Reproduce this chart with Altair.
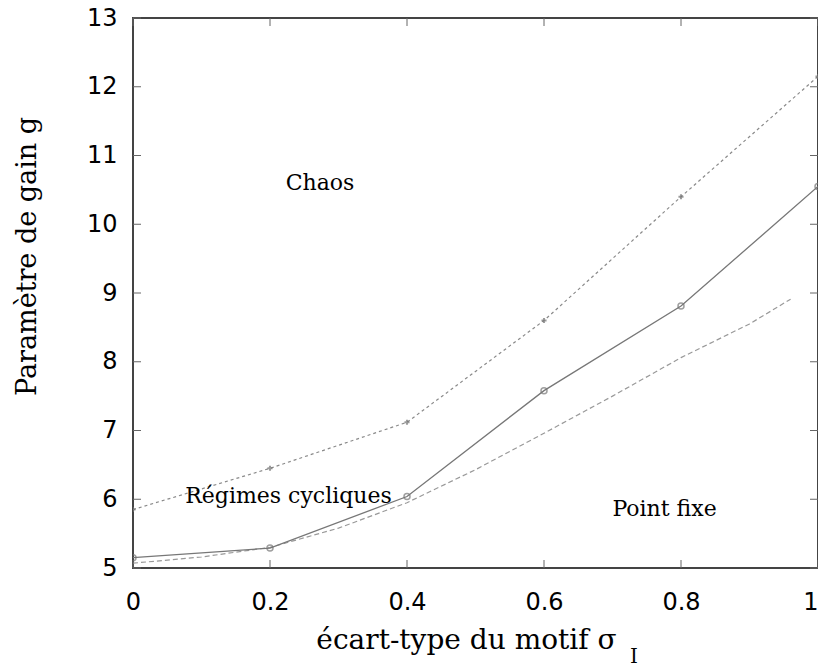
import altair as alt
import pandas as pd

# ---- data ----
x_pts = [0.0, 0.2, 0.4, 0.6, 0.8, 1.0]
chaos_g = [5.85, 6.45, 7.12, 8.60, 10.40, 12.15]
cycle_g = [5.15, 5.29, 6.04, 7.58, 8.81, 10.55]

fixed_x = [0.0, 0.1, 0.2, 0.3, 0.4, 0.5, 0.6, 0.7, 0.8, 0.9, 0.96]
fixed_g = [5.07, 5.16, 5.30, 5.58, 5.95, 6.43, 6.96, 7.50, 8.06, 8.55, 8.91]

x_ticks = [0.0, 0.2, 0.4, 0.6, 0.8, 1.0]
y_ticks = [5, 6, 7, 8, 9, 10, 11, 12, 13]

labels = ["Chaos", "Régimes cycliques", "Point fixe"]
label_x = [0.273, 0.227, 0.776]
label_g = [10.60, 6.05, 5.86]

W, H = 685, 550

df_chaos = pd.DataFrame({"x": x_pts, "g": chaos_g})
df_cycle = pd.DataFrame({"x": x_pts, "g": cycle_g})
df_fixed = pd.DataFrame({"x": fixed_x, "g": fixed_g})
df_xt = pd.DataFrame({"x": x_ticks})
df_yt = pd.DataFrame({"g": y_ticks})
df_lab = pd.DataFrame({"x": label_x, "g": label_g, "t": labels})

xs = alt.Scale(domain=[0, 1], nice=False, zero=False)
ys = alt.Scale(domain=[5, 13], nice=False, zero=False)

x_axis = alt.Axis(
    values=x_ticks, format="~g", title="écart-type du motif σ",
    ticks=False, domain=False, grid=False, labelFlush=False, labelOverlap=False,
    labelAlign=alt.ExprRef(expr="datum.value == 1 ? 'right' : 'center'"),
    labelFont="DejaVu Sans", labelFontSize=24, labelColor="black", labelPadding=22,
    titleFont="DejaVu Serif", titleFontSize=28, titleFontWeight="normal", titleColor="black",
    titleX=333, titleY=80, titleBaseline="alphabetic", titleAlign="center")
y_axis = alt.Axis(
    values=y_ticks, title="Paramètre de gain g",
    ticks=False, domain=False, grid=False, labelOverlap=False,
    labelFont="DejaVu Sans", labelFontSize=24, labelColor="black", labelPadding=16,
    titleFont="DejaVu Serif", titleFontSize=27, titleFontWeight="normal", titleColor="black",
    titleX=-98, titleY=238, titleAngle=-90, titleBaseline="alphabetic", titleAlign="center")

X = alt.X("x:Q", scale=xs, axis=x_axis, title="écart-type du motif σ")
Y = alt.Y("g:Q", scale=ys, axis=y_axis, title="Paramètre de gain g")

chaos_line = alt.Chart(df_chaos).mark_line(
    color="#8a8a8a", strokeWidth=1.2, strokeDash=[3, 3], clip=True).encode(x=X, y=Y)
chaos_pts = alt.Chart(df_chaos).mark_point(
    shape="cross", size=26, filled=True, color="#707070", clip=True).encode(x=X, y=Y)

cycle_line = alt.Chart(df_cycle).mark_line(
    color="#777777", strokeWidth=1.3, clip=True).encode(x=X, y=Y)
cycle_pts = alt.Chart(df_cycle).mark_point(
    shape="circle", size=36, filled=False, strokeWidth=1.5, color="#777777", clip=True).encode(x=X, y=Y)

fixed_line = alt.Chart(df_fixed).mark_line(
    color="#999999", strokeWidth=1.2, strokeDash=[5, 3], clip=True).encode(x=X, y=Y)

tick_col = "#666666"
xt_bot = alt.Chart(df_xt).mark_rule(color=tick_col, strokeWidth=1).encode(
    x=X, y=alt.value(H), y2=alt.value(H - 8))
xt_top = alt.Chart(df_xt).mark_rule(color=tick_col, strokeWidth=1).encode(
    x=X, y=alt.value(0), y2=alt.value(8))
yt_left = alt.Chart(df_yt).mark_rule(color=tick_col, strokeWidth=1).encode(
    y=Y, x=alt.value(0), x2=alt.value(8))
yt_right = alt.Chart(df_yt).mark_rule(color=tick_col, strokeWidth=1).encode(
    y=Y, x=alt.value(W - 8), x2=alt.value(W))

texts = alt.Chart(df_lab).mark_text(
    font="DejaVu Serif", fontSize=22, color="black", baseline="middle", align="center").encode(
    x=X, y=Y, text="t:N")

sub_i = alt.Chart(pd.DataFrame({"t": ["I"]})).mark_text(
    font="DejaVu Serif", fontSize=20, color="black", baseline="alphabetic", align="center").encode(
    x=alt.value(501), y=alt.value(645), text="t:N")

chart = alt.layer(
    chaos_line, fixed_line, cycle_line, chaos_pts, cycle_pts,
    xt_bot, xt_top, yt_left, yt_right, texts, sub_i
).properties(
    width=W, height=H,
    autosize=alt.AutoSizeParams(type="none"),
    padding={"left": 125, "top": 10, "right": 0, "bottom": 100},
).configure_view(stroke="#444444", strokeWidth=2)

chart.save("out.html", embed_options={"renderer": "svg", "actions": False})
